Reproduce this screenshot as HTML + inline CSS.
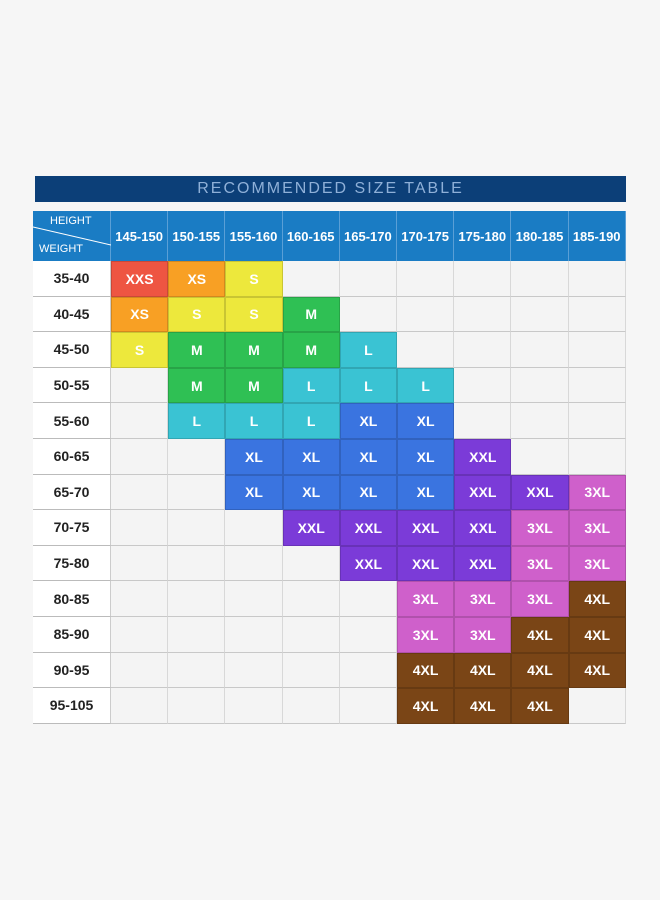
<!DOCTYPE html>
<html><head><meta charset="utf-8"><style>
body{margin:0;width:660px;height:900px;background:#f6f6f6;font-family:"Liberation Sans",sans-serif;position:relative;overflow:hidden}
.c{position:absolute;box-sizing:border-box;display:flex;align-items:center;justify-content:center;font-weight:bold}
</style></head><body>
<div class="c" style="left:35px;top:176px;width:591px;height:26px;background:#0c3f78;color:#8fb0d8;font-weight:normal;font-size:16px;letter-spacing:2px">RECOMMENDED SIZE TABLE</div>
<div id="t"></div>
<script>
const heights=["145-150","150-155","155-160","160-165","165-170","170-175","175-180","180-185","185-190"];
const weights=["35-40","40-45","45-50","50-55","55-60","60-65","65-70","70-75","75-80","80-85","85-90","90-95","95-105"];
const sizes=[
["XXS","XS","S","","","","","",""],
["XS","S","S","M","","","","",""],
["S","M","M","M","L","","","",""],
["","M","M","L","L","L","","",""],
["","L","L","L","XL","XL","","",""],
["","","XL","XL","XL","XL","XXL","",""],
["","","XL","XL","XL","XL","XXL","XXL","3XL"],
["","","","XXL","XXL","XXL","XXL","3XL","3XL"],
["","","","","XXL","XXL","XXL","3XL","3XL"],
["","","","","","3XL","3XL","3XL","4XL"],
["","","","","","3XL","3XL","4XL","4XL"],
["","","","","","4XL","4XL","4XL","4XL"],
["","","","","","4XL","4XL","4XL",""]];
const col={XXS:"#ee5542",XS:"#f8a024",S:"#ede83c",M:"#2fc054",L:"#3ac3d3",XL:"#3a74e0",XXL:"#7b3bd8","3XL":"#cf60cb","4XL":"#7a4516"};
const t=document.getElementById('t');
const X0=111,CW=57.2,Y0=261,RH=35.6,HT=211;
function add(x,y,w,h,txt,st){const d=document.createElement('div');d.className='c';d.style.cssText=`left:${x}px;top:${y}px;width:${w}px;height:${h}px;`+st;d.textContent=txt;t.appendChild(d);return d;}
const corner=add(33,HT,78,Y0-HT,"","background:#1a7cc4;border-right:1px solid #5a9fd6");


corner.innerHTML='<span style="position:absolute;left:17px;top:4px;font-size:11px;font-weight:normal;color:#fff">HEIGHT</span><span style="position:absolute;left:6px;top:32px;font-size:11px;font-weight:normal;color:#fff">WEIGHT</span><svg width="78" height="50" style="position:absolute;left:0;top:0"><line x1="0" y1="16" x2="78" y2="34" stroke="#fff" stroke-width="1"/></svg>';
heights.forEach((h,i)=>{const d=add(X0+i*CW,HT,CW,Y0-HT,h,"background:#1a7cc4;color:#fff;font-size:13px;border-right:1px solid #5a9fd6");

});
weights.forEach((w,r)=>{const y=Y0+r*RH;
const d=add(33,y,78,RH,w,"background:#fff;color:#222;font-size:14px;border-bottom:1px solid #bbb;border-right:1px solid #ccc");


sizes[r].forEach((s,i)=>{const c=add(X0+i*CW,y,CW,RH,s,s?`background:${col[s]};color:#fff;font-size:14px;border:0.5px solid rgba(0,0,0,0.15)`:"background:#f4f4f4;border-bottom:1px solid #c8c8c8;border-right:1px solid #d8d8d8");

});});
</script>
</body></html>
